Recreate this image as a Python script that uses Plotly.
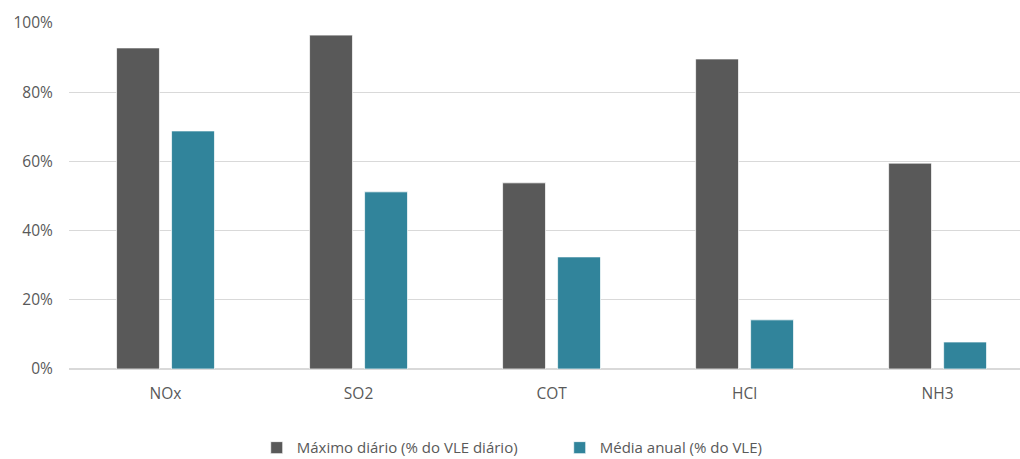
import plotly.graph_objects as go

categories = ["NOx", "SO2", "COT", "HCl", "NH3"]
max_diario = [0.928, 0.965, 0.538, 0.896, 0.595]
media_anual = [0.688, 0.512, 0.324, 0.142, 0.078]
series_names = ["Máximo diário (% do VLE diário)", "Média anual (% do VLE)"]
y_ticks = [0, 0.2, 0.4, 0.6, 0.8, 1.0]

FONT = "Open Sans"
TXT = "#595959"
FS = 15.5

fig = go.Figure()
fig.add_trace(go.Bar(x=categories, y=max_diario, name=series_names[0],
                     marker=dict(color="#595959", line=dict(color="rgba(255,255,255,0.7)", width=1))))
fig.add_trace(go.Bar(x=categories, y=media_anual, name=series_names[1],
                     marker=dict(color="#31849B", line=dict(color="rgba(255,255,255,0.7)", width=1))))

fig.update_layout(
    width=1020, height=459,
    margin=dict(l=69, r=0, t=23, b=90, autoexpand=False),
    paper_bgcolor="white", plot_bgcolor="white",
    barmode="group", bargap=0.43, bargroupgap=0.22,
    font=dict(family=FONT, size=FS, color=TXT),
    showlegend=True,
    legend=dict(orientation="h", x=0.516, xanchor="center", y=-0.228, yanchor="middle",
                font=dict(family=FONT, size=15, color=TXT), traceorder="normal",
                itemwidth=30, entrywidth=258, entrywidthmode="pixels"),
)
fig.update_xaxes(range=[-0.5, 4.427], showgrid=False, showline=False, ticks="outside",
                 ticklen=10, tickcolor="white", tickfont=dict(size=FS, color=TXT))
fig.update_yaxes(range=[0, 1.0], tickvals=y_ticks, tickformat=".0%", showgrid=True,
                 gridcolor="#D9D9D9", gridwidth=1, zeroline=True, zerolinecolor="#D9D9D9",
                 zerolinewidth=1.5, ticks="outside", ticklen=12, tickcolor="white",
                 tickfont=dict(size=FS, color=TXT))

fig.write_html("out.html")
